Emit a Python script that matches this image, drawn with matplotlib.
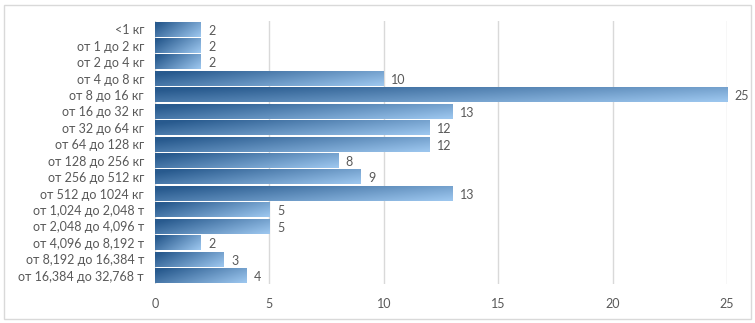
import matplotlib.pyplot as plt
from matplotlib.patches import Rectangle
import numpy as np

plt.rcParams['font.family'] = ['Lato', 'DejaVu Sans']

categories = ["<1 кг", "от 1 до 2 кг", "от 2 до 4 кг", "от 4 до 8 кг", "от 8 до 16 кг",
              "от 16 до 32 кг", "от 32 до 64 кг", "от 64 до 128 кг", "от 128 до 256 кг",
              "от 256 до 512 кг", "от 512 до 1024 кг", "от 1,024 до 2,048 т",
              "от 2,048 до 4,096 т", "от 4,096 до 8,192 т", "от 8,192 до 16,384 т",
              "от 16,384 до 32,768 т"]
counts = [2, 2, 2, 10, 25, 13, 12, 12, 8, 9, 13, 5, 5, 2, 3, 4]
xticks = [0, 5, 10, 15, 20, 25]

text_col = '#595959'
dark = np.array([0x28, 0x5a, 0x8e]) / 255
light = np.array([0x9c, 0xc6, 0xee]) / 255

# diagonal gradient: dark on the left, lighter towards bottom-right
gx = np.linspace(0, 1, 200)[None, :]
gy = np.linspace(0, 1, 20)[:, None]
s = np.clip(0.75 * gx + 0.35 * gy - 0.08, 0, 1)
grad = dark + (light - dark) * s[..., None]

fig = plt.figure(figsize=(7.55, 3.23), dpi=100)
fig.patches.append(Rectangle((4 / 755, 4 / 323), 747 / 755, 314 / 323, transform=fig.transFigure,
                             fill=False, edgecolor='#d9d9d9', linewidth=1))
ax = fig.add_axes([0.2053, 0.121, 0.7577, 0.814])

y = np.arange(len(categories))
bars = ax.barh(y, counts, height=0.9, color='none', edgecolor='none', zorder=2)
for bar, v in zip(bars, counts):
    x0, y0 = bar.get_x(), bar.get_y()
    w, h = bar.get_width(), bar.get_height()
    ax.imshow(grad, extent=(x0, x0 + w, y0 + h, y0), aspect='auto', zorder=2,
              interpolation='bilinear')
    ax.annotate(str(v), (x0 + w, y0 + h / 2), xytext=(5.5, -1), textcoords='offset points',
                va='center', ha='left', fontsize=9, color=text_col)

ax.set_xlim(0, 25)
ax.set_ylim(len(categories) - 0.5, -0.5)
ax.set_yticks(y)
ax.set_yticklabels(categories, fontsize=9, color=text_col)
ax.set_xticks(xticks)
ax.set_xticklabels([str(t) for t in xticks], fontsize=9, color=text_col)
ax.tick_params(length=0, pad=8)
ax.tick_params(axis='x', pad=10)
ax.grid(axis='x', color='#d9d9d9', linewidth=1, zorder=0)
ax.set_axisbelow(True)
for sp in ax.spines.values():
    sp.set_visible(False)

fig.savefig('out.png', dpi=100)
